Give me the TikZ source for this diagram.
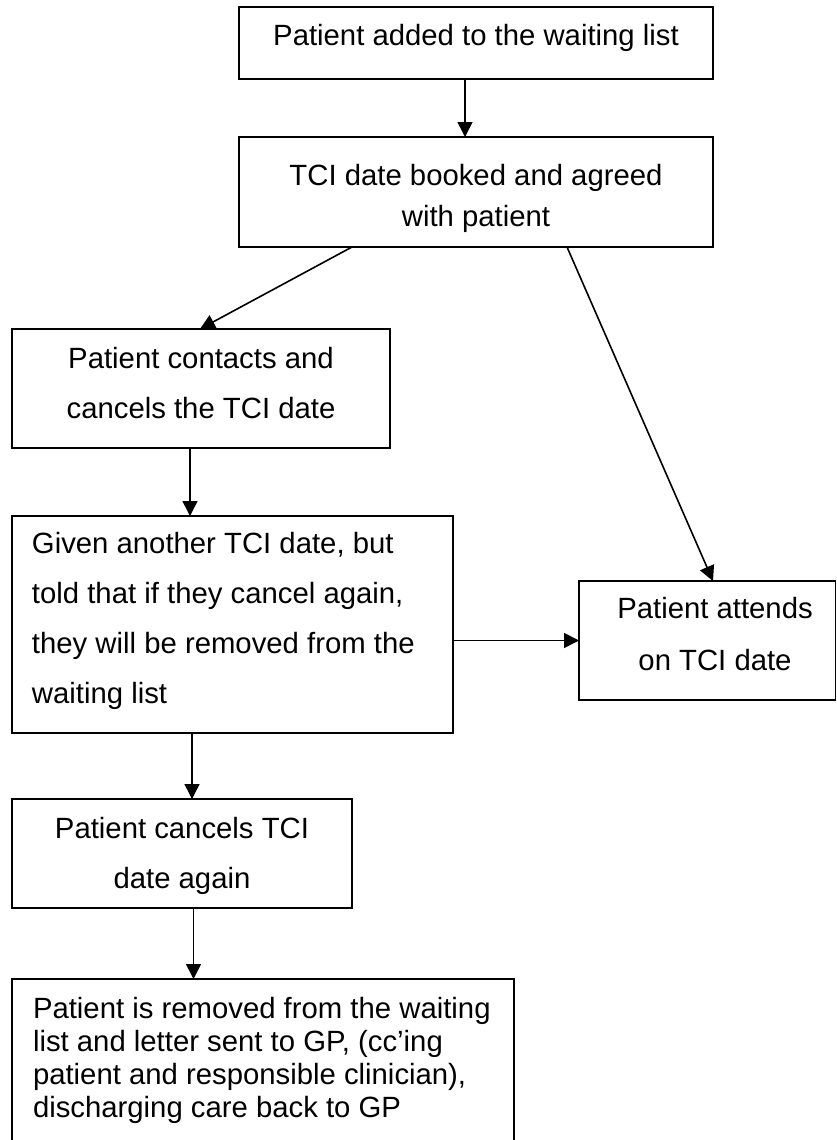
\documentclass[tikz,border=0pt]{standalone}
\usepackage{fontspec}
\setmainfont{Liberation Sans}
\usetikzlibrary{arrows.meta}

% Box contents: width, height, gap above first line, line pitch, alignment, text
\newcommand\boxbody[6]{%
  \parbox[c][#2][t]{#1}{\fontsize{29.3pt}{#4}\selectfont #5\relax
    \vspace*{#3}\rule{0pt}{25pt}#6}}

\tikzset{
  box/.style={draw, line width=1.8pt, inner sep=0pt, outer sep=0pt, anchor=north west},
  arr/.style={line width=1.6pt, -{Triangle[length=15pt,width=15pt]}}
}

\begin{document}
\begin{tikzpicture}[x=1pt,y=-1pt]
  \fill[white] (0,0) rectangle (837,1140);
  \useasboundingbox (0,0) rectangle (837,1140);
  \clip (0,0) rectangle (837,1140);

  \node[box] (b1) at (239,7)
    {\boxbody{474pt}{72pt}{13pt}{50pt}{\centering}{Patient added to the waiting list}};
  \node[box] (b2) at (239,137)
    {\boxbody{474pt}{110pt}{23pt}{41pt}{\centering}{TCI date booked and agreed\\with patient}};
  \node[box] (b3) at (12,329)
    {\boxbody{378pt}{119pt}{14pt}{50pt}{\centering}{Patient contacts and\\cancels the TCI date}};
  \node[box] (b4) at (12,516)
    {\boxbody{441pt}{217pt}{12pt}{50pt}{\raggedright\leftskip=20pt}{Given another TCI date, but\\told that if they cancel again,\\they will be removed from the\\waiting list}};
  \node[box] (b5) at (579,581)
    {\boxbody{256.5pt}{119pt}{12pt}{52pt}{\centering\leftskip=15.5pt plus 1fil}{Patient attends\\on TCI date}};
  \node[box] (b6) at (12,799)
    {\boxbody{340pt}{109pt}{14pt}{50pt}{\centering}{Patient cancels TCI\\date again}};
  \node[box] (b7) at (12,979)
    {\boxbody{502pt}{175pt}{14pt}{33pt}{\raggedright\leftskip=21pt}{Patient is removed from the waiting\\list and letter sent to GP, (cc’ing\\patient and responsible clinician),\\discharging care back to GP}};

  \draw[arr] ([xshift=-11pt]b1.south) -- ([xshift=-11pt]b2.north);
  \draw[arr] ([xshift=-124pt]b2.south) -- ([xshift=-1pt]b3.north);
  \draw[arr] ([xshift=91pt]b2.south) -- ([xshift=5.75pt]b5.north);
  \draw[arr] ([xshift=-11pt]b3.south) -- ([xshift=-42.5pt]b4.north);
  \draw[arr] (b5.west -| b4.east) -- (b5.west);
  \draw[arr] ([xshift=-40.5pt]b4.south) -- ([xshift=10pt]b6.north);
  \draw[arr] ([xshift=11.5pt]b6.south) -- ([xshift=-69.5pt]b7.north);
\end{tikzpicture}
\end{document}
